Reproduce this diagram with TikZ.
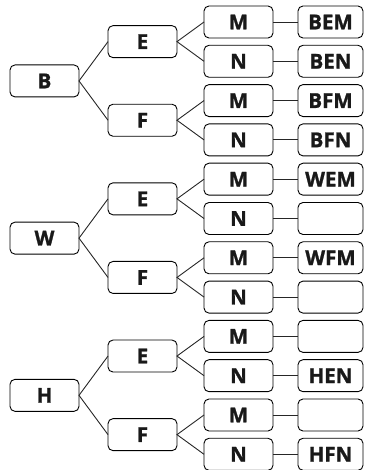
\documentclass[tikz,border=0pt]{standalone}
\usepackage{fontspec}
\setmainfont{Open Sans}[BoldFeatures={FakeBold=1.2}]
\usetikzlibrary{positioning, calc}

\begin{document}
\begin{tikzpicture}[
  x=1pt, y=1pt,
  font=\fontsize{20.5}{20.5}\selectfont\bfseries,
  box/.style={draw, line width=0.9pt, rounded corners=5pt, minimum width=69pt, minimum height=32pt, inner sep=0pt, outer sep=0pt, text=black!90},
  res/.style={box, minimum width=65pt},
  edge/.style={line width=0.9pt, draw=black!85}
]
\useasboundingbox (0,0) rectangle (364,470);

% third column, top to bottom
\node[box] (BEm) at (238.5,448) {M};
\node[box, below=7.3pt of BEm] (BEn) {N};
\node[box, below=7.3pt of BEn] (BFm) {M};
\node[box, below=7.3pt of BFm] (BFn) {N};
\node[box, below=7.3pt of BFn] (WEm) {M};
\node[box, below=7.3pt of WEm] (WEn) {N};
\node[box, below=7.3pt of WEn] (WFm) {M};
\node[box, below=7.3pt of WFm] (WFn) {N};
\node[box, below=7.3pt of WFn] (HEm) {M};
\node[box, below=7.3pt of HEm] (HEn) {N};
\node[box, below=7.3pt of HEn] (HFm) {M};
\node[box, below=7.3pt of HFm] (HFn) {N};

% outcomes
\node[res, right=25pt of BEm] (BEMo) {BEM};
\node[res, right=25pt of BEn] (BENo) {BEN};
\node[res, right=25pt of BFm] (BFMo) {BFM};
\node[res, right=25pt of BFn] (BFNo) {BFN};
\node[res, right=25pt of WEm] (WEMo) {WEM};
\node[res, right=25pt of WEn] (WENo) {};
\node[res, right=25pt of WFm] (WFMo) {WFM};
\node[res, right=25pt of WFn] (WFNo) {};
\node[res, right=25pt of HEm] (HEMo) {};
\node[res, right=25pt of HEn] (HENo) {HEN};
\node[res, right=25pt of HFm] (HFMo) {};
\node[res, right=25pt of HFn] (HFNo) {HFN};

% second column
\node[box] (BE) at ($(BEm)!0.5!(BEn)+(-96,0)$) {E};
\node[box] (BF) at ($(BFm)!0.5!(BFn)+(-96,0)$) {F};
\node[box] (WE) at ($(WEm)!0.5!(WEn)+(-96,0)$) {E};
\node[box] (WF) at ($(WFm)!0.5!(WFn)+(-96,0)$) {F};
\node[box] (HE) at ($(HEm)!0.5!(HEn)+(-96,0)$) {E};
\node[box] (HF) at ($(HFm)!0.5!(HFn)+(-96,0)$) {F};

% first column
\node[box] (B) at ($(BE)!0.5!(BF)+(-98,0)$) {B};
\node[box] (W) at ($(WE)!0.5!(WF)+(-98,0)$) {W};
\node[box] (H) at ($(HE)!0.5!(HF)+(-98,0)$) {H};

\draw[edge] (BE.west) -- (B.east) -- (BF.west);
\draw[edge] (WE.west) -- (W.east) -- (WF.west);
\draw[edge] (HE.west) -- (H.east) -- (HF.west);

\draw[edge] (BEm.west) -- (BE.east) -- (BEn.west);
\draw[edge] (BFm.west) -- (BF.east) -- (BFn.west);
\draw[edge] (WEm.west) -- (WE.east) -- (WEn.west);
\draw[edge] (WFm.west) -- (WF.east) -- (WFn.west);
\draw[edge] (HEm.west) -- (HE.east) -- (HEn.west);
\draw[edge] (HFm.west) -- (HF.east) -- (HFn.west);

\draw[edge] (BEm) -- (BEMo);
\draw[edge] (BEn) -- (BENo);
\draw[edge] (BFm) -- (BFMo);
\draw[edge] (BFn) -- (BFNo);
\draw[edge] (WEm) -- (WEMo);
\draw[edge] (WEn) -- (WENo);
\draw[edge] (WFm) -- (WFMo);
\draw[edge] (WFn) -- (WFNo);
\draw[edge] (HEm) -- (HEMo);
\draw[edge] (HEn) -- (HENo);
\draw[edge] (HFm) -- (HFMo);
\draw[edge] (HFn) -- (HFNo);
\end{tikzpicture}
\end{document}
